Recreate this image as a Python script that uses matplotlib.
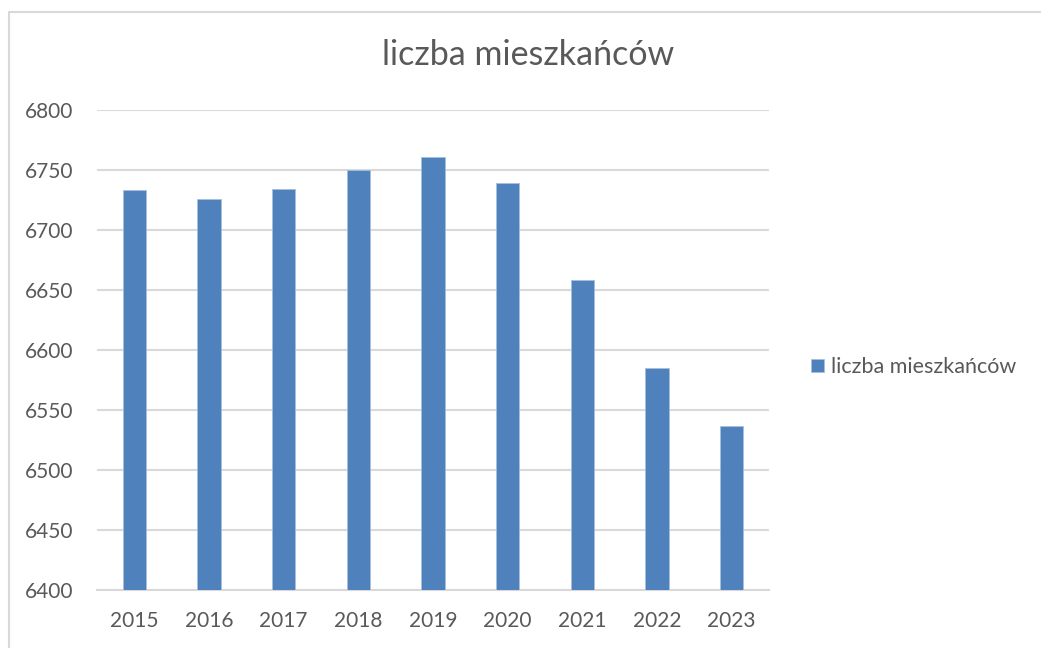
import matplotlib.pyplot as plt
from matplotlib.lines import Line2D

years = ['2015', '2016', '2017', '2018', '2019', '2020', '2021', '2022', '2023']
residents = [6733, 6726, 6734, 6750, 6761, 6739, 6658, 6585, 6537]
series_name = 'liczba mieszkańców'
yticks = [6400, 6450, 6500, 6550, 6600, 6650, 6700, 6750, 6800]

plt.rcParams['font.family'] = ['Lato', 'DejaVu Sans']
text_col = '#595959'
grid_col = '#d9d9d9'

W, H = 1041, 648
fig = plt.figure(figsize=(W / 100, H / 100), dpi=100)
ax = fig.add_axes([97 / W, 1 - 590 / H, 672 / W, 480 / H])

x = range(len(years))
bars = ax.bar(x, residents, width=0.31, color='#4f81bd', edgecolor='#a7bfde',
              linewidth=0.6, label=series_name, zorder=3)

ax.set_ylim(6400, 6800)
ax.set_xlim(-0.5, len(years) - 0.5)
ax.set_yticks(yticks)
ax.set_xticks(list(x))
ax.set_xticklabels(years)
ax.grid(axis='y', color=grid_col, linewidth=1.5, zorder=0)
for s in ['top', 'right', 'left']:
    ax.spines[s].set_visible(False)
ax.spines['bottom'].set_color(grid_col)
ax.spines['bottom'].set_linewidth(1.5)
ax.tick_params(length=0, labelsize=15, labelcolor=text_col)
ax.tick_params(axis='y', pad=17)
ax.tick_params(axis='x', pad=15)

fig.text(528 / W, 1 - 55 / H, series_name, ha='center', va='center',
         fontsize=24.5, color=text_col)

fig.legend(handles=[bars], loc='center left', bbox_to_anchor=(802 / W, 1 - 367 / H),
           frameon=False, fontsize=15.5, labelcolor=text_col, handlelength=0.6,
           handleheight=0.6, handletextpad=0.35, borderaxespad=0)

# chart area border (left and top edges only visible)
fig.add_artist(Line2D([8.5 / W, 8.5 / W, 1], [0, 1 - 11.5 / H, 1 - 11.5 / H],
                      transform=fig.transFigure, color='#d9d9d9', linewidth=1.5))

fig.savefig('out.png', dpi=100)
